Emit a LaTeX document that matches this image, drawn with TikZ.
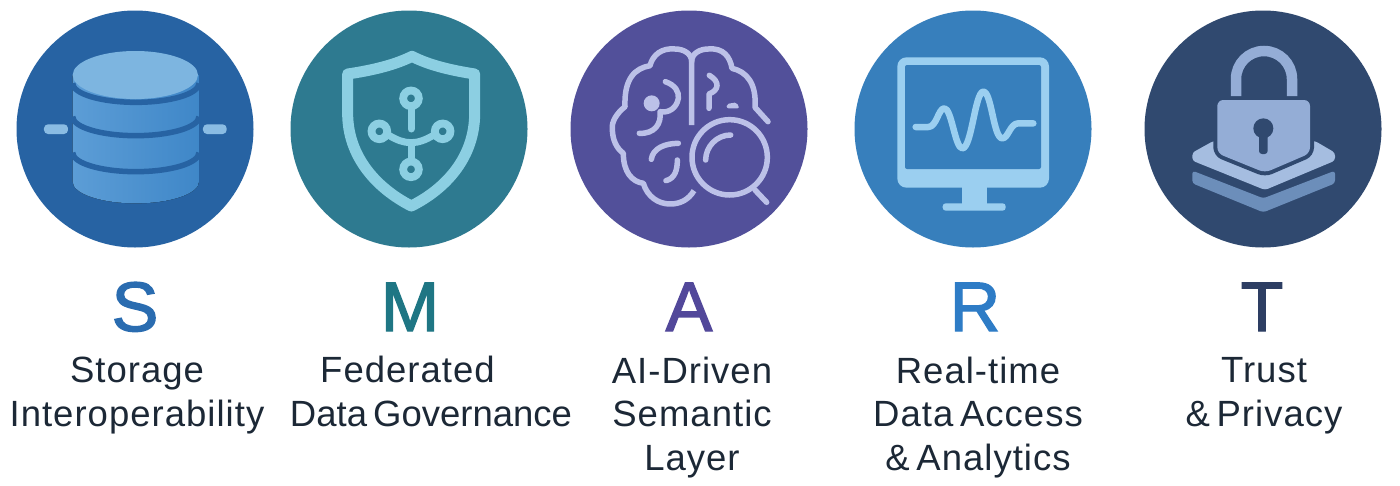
\documentclass[tikz,border=0pt]{standalone}
\usepackage{fontspec}
\setmainfont[LetterSpace=2.8,WordSpace=0.6]{Liberation Sans}
\newfontfamily\tightfont[WordSpace=0.6]{Liberation Sans}
\newfontfamily\heavyfont[FakeBold=2]{Liberation Sans}
\usepackage{tikz}
\definecolor{discS}{HTML}{2763A3}
\definecolor{discM}{HTML}{2E7A90}
\definecolor{discA}{HTML}{52509A}
\definecolor{discR}{HTML}{377FBC}
\definecolor{discT}{HTML}{30496F}
\definecolor{letS}{HTML}{2A6CB0}
\definecolor{letM}{HTML}{1F7684}
\definecolor{letA}{HTML}{52489A}
\definecolor{letR}{HTML}{2E7CC6}
\definecolor{letT}{HTML}{2D3E63}
\definecolor{inkText}{HTML}{1C2836}
\definecolor{cylTop}{HTML}{7DB5E0}
\definecolor{cylLeft}{HTML}{5C9DD6}
\definecolor{cylRight}{HTML}{3F87C8}
\definecolor{shieldLine}{HTML}{8CCFE2}
\definecolor{brainLine}{HTML}{BCC1E8}
\definecolor{screenLine}{HTML}{9BCFF0}
\definecolor{lockBody}{HTML}{94ADD6}
\definecolor{layerHigh}{HTML}{A5BDE0}
\definecolor{layerLow}{HTML}{6C8EBA}
\tikzset{
  disc/.style={circle,minimum size=237pt,inner sep=0pt},
  letterbig/.style={anchor=base,font=\fontsize{70}{70}\selectfont\heavyfont},
  caption/.style={anchor=base,align=center,text=inkText,font=\fontsize{36.5}{43.5}\selectfont},
  icon/.style={line cap=round,line join=round},
}
\begin{document}
\begin{tikzpicture}[x=1pt,y=-1pt]
  \useasboundingbox (0,0) rectangle (1400,485);
  \foreach \nm/\xc/\ltr/\lx/\lbl/\tx/\ty in {
      storage/135/S/135/{Storage\\Interoperability}/137/426,
      govern/409/M/410/{Federated\hspace*{47pt}\\{\tightfont Data Governance}}/431/426,
      brain/689/A/689/{AI-Driven\\Semantic\\Layer}/692/470,
      access/973/R/975/{Real-time\\Data Access\\\& Analytics}/978/470,
      trust/1263/T/1262/{Trust\\\& Privacy}/1264/426} {
    \node[disc,fill=disc\ltr] (\nm) at (\xc,129) {};
    \node[letterbig,text=let\ltr] (\nm let) at (\lx,331) {\ltr};
    \node[caption] (\nm txt) at (\tx,\ty) {\lbl};
  }
  \begin{scope}[scale=1/3]
    \fill[left color=cylLeft,right color=cylRight] (218,225) -- (218,545) arc[start angle=180,end angle=0,x radius=189.5,y radius=65] -- (597,225) -- cycle;
    \foreach \y in {250,350,458} {
      \draw[discS,line width=5.5pt] (218,\y) arc[start angle=180,end angle=0,x radius=189.5,y radius=57];
    }
    \fill[cylTop] (406,225) ellipse[x radius=188,y radius=72];
    \fill[cylTop!90!white,rounded corners=4pt] (132,373) rectangle (204,402);
    \fill[cylTop!90!white,rounded corners=4pt] (609,373) rectangle (680,402);
  \end{scope}
  \begin{scope}[shift={(280,0)},scale=1/3]
    \draw[icon,shieldLine,line width=11pt] (396,169) .. controls (340,197) and (270,212) .. (203,222) -- (203,340) .. controls (203,470) and (290,565) .. (394,618) .. controls (500,565) and (584,470) .. (584,340) -- (584,222) .. controls (520,212) and (450,197) .. (396,169) -- cycle;
    \foreach \cx/\cy in {393/295,298/394,488/394,393/508} {
      \draw[shieldLine,line width=7.8pt] (\cx,\cy) circle[radius=23.5];
    }
    \draw[icon,shieldLine,line width=7pt] (393,320) -- (393,387);
    \draw[icon,shieldLine,line width=7pt] (393,430) -- (393,482);
    \draw[icon,shieldLine,line width=7pt] (325,405) .. controls (350,420) and (370,428) .. (393,428) .. controls (416,428) and (436,420) .. (462,405);
  \end{scope}
  \begin{scope}[shift={(560,0)},scale=1/3]
    \tikzset{brainpen/.style={icon,brainLine,line width=5.5pt}}
    \draw[brainpen,line cap=butt] (395,375) -- (395,185) .. controls (395,160) and (370,147) .. (345,147) .. controls (305,143) and (278,165) .. (270,197) .. controls (225,205) and (192,235) .. (195,320) .. controls (170,340) and (155,365) .. (157,385) .. controls (157,420) and (170,445) .. (190,460) .. controls (190,515) and (215,545) .. (250,550) .. controls (262,590) and (295,612) .. (330,612) .. controls (360,612) and (385,600) .. (402,572);
    \draw[brainpen] (395,185) .. controls (395,160) and (420,147) .. (445,147) .. controls (490,143) and (510,170) .. (516,205) .. controls (560,215) and (590,250) .. (585,322) -- (624,365);
    \draw[brainpen] (316,245) .. controls (345,255) and (358,275) .. (355,295) .. controls (350,325) and (325,340) .. (300,335) .. controls (305,370) and (285,402) .. (238,400);
    \fill[brainLine] (275,310) circle[radius=24];
    \draw[brainpen] (355,430) .. controls (315,430) and (278,445) .. (274,478);
    \draw[brainpen] (352,480) .. controls (352,510) and (345,535) .. (318,542);
    \draw[brainpen] (448,226) .. controls (480,245) and (478,270) .. (447,282) -- (447,325);
    \fill[brainLine,rounded corners=2pt] (500,325) -- (500,312) -- (530,307) -- (538,325) -- cycle;
    \draw[brainLine,line width=5.5pt] (509,472) circle[radius=113];
    \draw[brainpen] (585,570) -- (620,607);
    \draw[brainpen] (437,480) .. controls (437,440) and (470,405) .. (512,405);
  \end{scope}
  \begin{scope}[shift={(845,0)},scale=1/3]
    \fill[screenLine,rounded corners=9pt] (157,172) rectangle (612,563);
    \fill[discR,rounded corners=2pt] (180,195) rectangle (588,507);
    \fill[screenLine] (350,560) rectangle (427,615);
    \fill[screenLine,rounded corners=3pt] (293,610) rectangle (482,632);
    \draw[icon,screenLine,line width=6.5pt] (212,381) -- (250,381) .. controls (275,381) and (280,325) .. (298,325) .. controls (320,325) and (330,445) .. (352,445) .. controls (380,445) and (390,275) .. (415,275) .. controls (440,275) and (445,415) .. (472,415) .. controls (490,415) and (495,370) .. (520,370) -- (565,370);
  \end{scope}
  \begin{scope}[shift={(1135,0)},scale=1/3]
    \fill[layerLow,rounded corners=3pt] (172,512) -- (385,595) -- (600,512) -- (600,550) -- (385,637) -- (172,550) -- cycle;
    \fill[layerHigh,rounded corners=3pt] (235,423) -- (172,458) -- (172,482) -- (390,570) -- (600,482) -- (600,458) -- (540,423) -- cycle;
    \draw[discT,fill=discT,line width=8pt,rounded corners=6pt] (247,300) -- (525,300) -- (525,460) -- (390,518) -- (247,460) -- cycle;
    \fill[lockBody,rounded corners=6pt] (247,300) -- (525,300) -- (525,460) -- (390,518) -- (247,460) -- cycle;
    \draw[lockBody,line width=10.5pt] (303,288) -- (303,237) arc[start angle=180,end angle=360,radius=84] -- (471,288);
    \fill[discT] (385,385) circle[radius=30];
    \fill[discT,rounded corners=3pt] (372,400) rectangle (398,462);
  \end{scope}
\end{tikzpicture}
\end{document}
